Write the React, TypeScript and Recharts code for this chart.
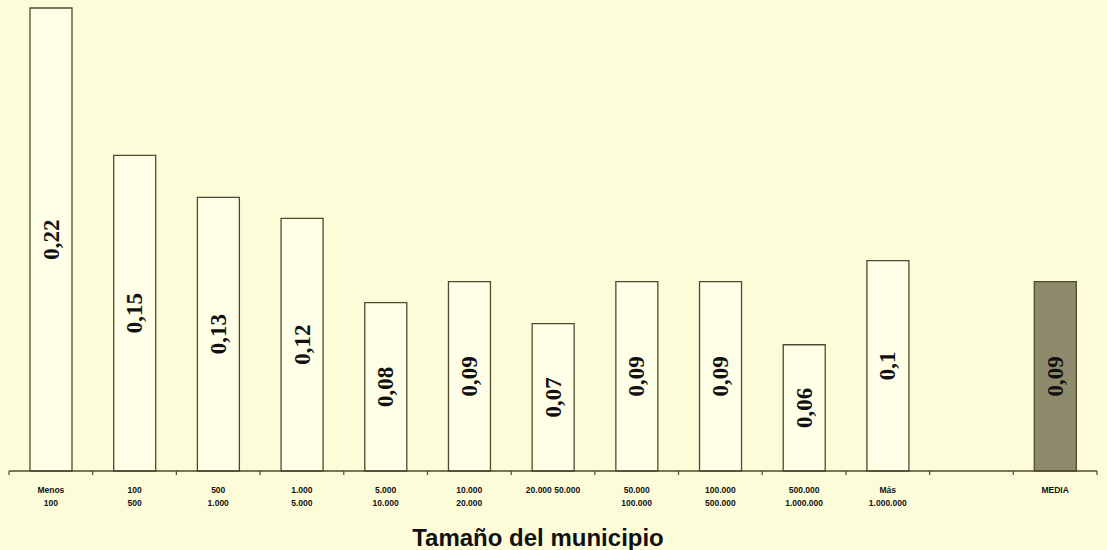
import React from "react";
import { BarChart, Bar, XAxis, YAxis, Cell, LabelList } from "recharts";

const categories = [
  ["Menos", "100"],
  ["100", "500"],
  ["500", "1.000"],
  ["1.000", "5.000"],
  ["5.000", "10.000"],
  ["10.000", "20.000"],
  ["20.000 50.000", ""],
  ["50.000", "100.000"],
  ["100.000", "500.000"],
  ["500.000", "1.000.000"],
  ["Más", "1.000.000"],
  ["", ""],
  ["MEDIA", ""],
];
const values: (number | null)[] = [0.22, 0.15, 0.13, 0.12, 0.08, 0.09, 0.07, 0.09, 0.09, 0.06, 0.1, null, 0.09];
const valueLabels = ["0,22", "0,15", "0,13", "0,12", "0,08", "0,09", "0,07", "0,09", "0,09", "0,06", "0,1", "", "0,09"];
const highlightIndex = 12;

const data = categories.map((c, i) => ({
  key: String(i),
  line1: c[0],
  line2: c[1],
  value: values[i],
  label: valueLabels[i],
}));

const BG = "#fdfcd9";
const STROKE = "#4f4a2c";

const W = 1107;
const H = 550;
const ML = 9;
const MR = 10;
const BAND = (W - ML - MR) / categories.length;

const Tick = (props: any) => {
  const { x, y, payload, index } = props;
  const d = data.find((e) => e.key === payload.value);
  return (
    <g>
      <line x1={x - BAND / 2} x2={x - BAND / 2} y1={y} y2={y + 4} stroke={STROKE} strokeWidth={1.2} />
      {index === categories.length - 1 && (
        <line x1={x + BAND / 2} x2={x + BAND / 2} y1={y} y2={y + 4} stroke={STROKE} strokeWidth={1.2} />
      )}
      <text
        x={x}
        y={y + 22}
        textAnchor="middle"
        fontFamily="Arial, 'Liberation Sans', sans-serif"
        fontWeight="bold"
        fontSize={8.5}
        fill="#111"
      >
        {d ? d.line1 : ""}
      </text>
      <text
        x={x}
        y={y + 35}
        textAnchor="middle"
        fontFamily="Arial, 'Liberation Sans', sans-serif"
        fontWeight="bold"
        fontSize={8.5}
        fill="#111"
      >
        {d ? d.line2 : ""}
      </text>
    </g>
  );
};

const BarLabel = (props: any) => {
  const { x, y, width, height, value } = props;
  if (!value) return null;
  const cx = x + width / 2;
  const cy = y + height / 2;
  return (
    <text
      x={cx}
      y={cy}
      transform={`rotate(-90, ${cx}, ${cy})`}
      textAnchor="middle"
      dominantBaseline="central"
      fontFamily="'Liberation Serif', 'Times New Roman', serif"
      fontWeight="bold"
      fontSize={23}
      fill="#111"
    >
      {value}
    </text>
  );
};

const Title = () => {
  return (
    <text
      x={538}
      y={546}
      textAnchor="middle"
      fontFamily="Arial, 'Liberation Sans', sans-serif"
      fontWeight="bold"
      fontSize={24}
      fill="#111"
    >
      Tamaño del municipio
    </text>
  );
};

export default function App() {
  return (
    <div style={{ position: "absolute", left: 0, top: 0, width: W, height: H, background: BG }}>
      <BarChart
        width={W}
        height={H}
        data={data}
        margin={{ top: 8, right: MR, left: ML, bottom: 0 }}
        barCategoryGap="25%"
      >
        <YAxis hide domain={[0, 0.22]} />
        <XAxis
          dataKey="key"
          interval={0}
          height={79}
          axisLine={{ stroke: STROKE, strokeWidth: 1.5 }}
          tickLine={false}
          tickSize={0}
          tickMargin={0}
          tick={<Tick />}
          label={<Title />}
        />
        <Bar dataKey="value" isAnimationActive={false} stroke={STROKE} strokeWidth={1.3} barSize={42}>
          {data.map((d, i) => (
            <Cell key={i} fill={i === highlightIndex ? "#8e8a6b" : "#fffee6"} />
          ))}
          <LabelList dataKey="label" content={<BarLabel />} />
        </Bar>
      </BarChart>
    </div>
  );
}
